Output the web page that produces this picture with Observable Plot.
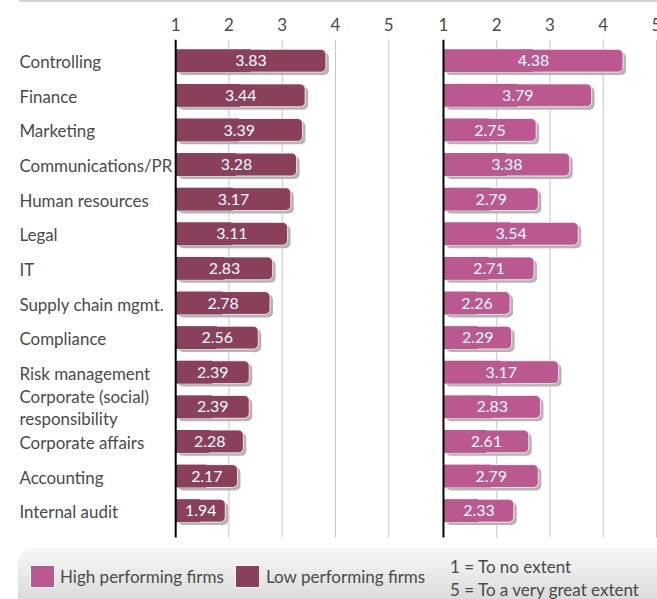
<!DOCTYPE html>
<html><head><meta charset="utf-8">
<script src="https://cdn.jsdelivr.net/npm/d3@7"></script>
<script src="https://cdn.jsdelivr.net/npm/@observablehq/plot@0.6"></script>
<style>
body{margin:0;background:#fff;overflow:hidden;font-family:Lato,"Open Sans",sans-serif}
#wrap{position:relative;width:657px;height:599px;overflow:hidden}
#topline{position:absolute;left:19px;top:0;width:640px;height:2px;background:#d4d4d4}
#chart{position:absolute;left:0;top:0}
#legend{position:absolute;left:18px;top:548px;width:660px;height:60px;border-top-left-radius:16px;background:linear-gradient(#f8f8f8,#d6d6d6);color:#4a4a4a;font-size:17px}
.sw{position:absolute;width:23px;height:21px;top:18px;box-shadow:0 0 0 1px #fff}
.lt{position:absolute;top:18px;line-height:21px;white-space:nowrap}
</style></head>
<body>
<div id="wrap">
<div id="topline"></div>
<div id="chart"></div>
<div id="legend"></div>
</div>
<script>
const categories = ["Controlling","Finance","Marketing","Communications/PR","Human resources","Legal","IT","Supply chain mgmt.","Compliance","Risk management","Corporate (social)\nresponsibility","Corporate affairs","Accounting","Internal audit"];
const lowValues = [3.83,3.44,3.39,3.28,3.17,3.11,2.83,2.78,2.56,2.39,2.39,2.28,2.17,1.94];
const highValues = [4.38,3.79,2.75,3.38,2.79,3.54,2.71,2.26,2.29,3.17,2.83,2.61,2.79,2.33];
const groups = ["Low performing firms","High performing firms"];
const groupColors = ["#8a3f5c","#bb5890"];
const xTicks = [1,2,3,4,5];
const legendOrder = ["High performing firms","Low performing firms"];
const scaleNotes = ["1 = To no extent","5 = To a very great extent"];

const data = [];
categories.forEach((c,i)=>{
  data.push({category:c, group:groups[0], value:lowValues[i]});
  data.push({category:c, group:groups[1], value:highValues[i]});
});

const chart = Plot.plot({
  width:660, height:548,
  marginLeft:176, marginRight:1, marginTop:40, marginBottom:8,
  style:{fontFamily:"Lato, 'Open Sans', sans-serif", fontSize:"17px", color:"#4a4a4a", background:"transparent"},
  fx:{domain:groups, paddingInner:0.2045, paddingOuter:0, round:false, axis:null},
  x:{domain:[1,5], axis:null},
  y:{domain:categories, paddingInner:0.34, paddingOuter:0.36, align:0.38, round:false, axis:null},
  color:{domain:groups, range:groupColors},
  marks:[
    Plot.gridX(xTicks.slice(1), {stroke:"#c6c6c6", strokeOpacity:1}),
    Plot.axisX(xTicks, {anchor:"top", tickSize:0, tickPadding:9, fontSize:17, fill:"#4a4a4a", label:null}),
    Plot.axisY({textAnchor:"start", tickSize:0, tickPadding:157, fontSize:17, lineHeight:1.3, fill:"#4a4a4a", label:null}),
    Plot.barX(data, {fx:"group", y:"category", x1:1, x2:"value", dx:3, dy:3, rx:5, fill:"#b4b4b4"}),
    Plot.barX(data, {fx:"group", y:"category", x1:1, x2:"value", rx:5, fill:"group", stroke:"white", strokeWidth:0.8}),
    Plot.barX(data, {fx:"group", y:"category", x1:1, x2:d=>(1+d.value)/2, fill:"group"}),
    Plot.text(data, {fx:"group", y:"category", x:d=>(1+d.value)/2, text:d=>d.value.toFixed(2), fill:"white", fontSize:16}),
    Plot.ruleX([1], {stroke:"black", strokeWidth:2})
  ]
});
document.getElementById("chart").appendChild(chart);

const lg = document.getElementById("legend");
const pos = [{sw:13, tx:42},{sw:218, tx:248}];
legendOrder.forEach((g,i)=>{
  const s = document.createElement("div");
  s.className="sw"; s.style.left=pos[i].sw+"px"; s.style.background=groupColors[groups.indexOf(g)];
  lg.appendChild(s);
  const t = document.createElement("div");
  t.className="lt"; t.style.left=pos[i].tx+"px"; t.textContent=g;
  lg.appendChild(t);
});
scaleNotes.forEach((n,i)=>{
  const t = document.createElement("div");
  t.className="lt"; t.style.left="432px"; t.style.top=(i*23+8)+"px"; t.textContent=n;
  lg.appendChild(t);
});
</script>
</body></html>
